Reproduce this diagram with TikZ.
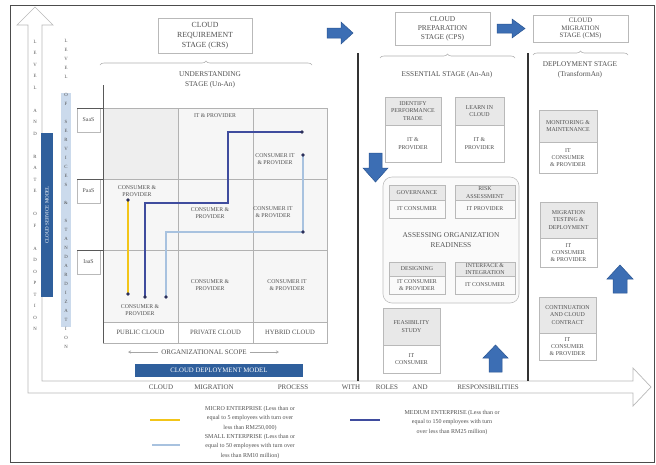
\documentclass[tikz,border=0pt]{standalone}
\usepackage{fontspec}
\setmainfont{Liberation Serif}
\usetikzlibrary{decorations.pathreplacing,arrows.meta}
\definecolor{bluearrow}{HTML}{3C6EB4}
\definecolor{bluearrowd}{HTML}{2A5592}
\definecolor{ylw}{HTML}{F2C519}
\definecolor{dblue}{HTML}{3F4C9E}
\definecolor{lblue}{HTML}{A8C2DF}
\definecolor{txt}{HTML}{505050}
\definecolor{barblue}{HTML}{2F5F9C}
\definecolor{dotc}{HTML}{2B2F5A}
\newcommand{\procbox}[8]{%
 \fill[gray!18] (#2,#3) rectangle (#4,#5);
 \draw[gray!55, line width=0.5] (#2,#3) rectangle (#4,#6);
 \draw[gray!55, line width=0.4] (#2,#5) -- (#4,#5);
 \node[boxtxt] (#1t) at ({(#2+#4)/2},{(#3+#5)/2}) {#7};
 \node[boxtxt] (#1b) at ({(#2+#4)/2},{(#5+#6)/2}) {#8};}
\begin{document}
\begin{tikzpicture}[x=1pt,y=-1pt,
  lbl/.style={font=\fontsize{5.8}{7.5}\selectfont, text=txt, align=center, inner sep=0pt},
  boxtxt/.style={font=\fontsize{5.9}{7.2}\selectfont, text=txt, align=center, inner sep=0pt},
  stagebox/.style={draw=gray!55, line width=0.6, fill=white, align=center, font=\fontsize{7.8}{10}\selectfont, text=txt, inner sep=1pt},
  headtxt/.style={font=\fontsize{7.3}{9.5}\selectfont, text=txt, align=center, inner sep=0pt},
  axtxt/.style={font=\fontsize{7}{7}\selectfont, text=txt, inner sep=0pt},
  vlet/.style={font=\fontsize{4.8}{5}\selectfont, text=txt, inner sep=0pt},
  bluearr/.style={fill=bluearrow, draw=bluearrowd, line width=0.5},
  brc/.style={decorate, decoration={brace, amplitude=4pt}, draw=gray!60, line width=0.6},
  gridln/.style={draw=gray!60, line width=0.5},
  route/.style={line width=2.2pt},
  dot/.style={circle, fill=dotc, inner sep=0pt, minimum size=3.6pt}]
\useasboundingbox (0,0) rectangle (656,464);
\fill[white] (0,0) rectangle (656,464);
% outer frame
\draw[black!70, line width=0.8] (10,5) rectangle (654,462);
% L shaped hollow axis arrow
\draw[gray!55, line width=0.7, fill=white] (28,393) -- (28,25) -- (17,25) -- (35,7) -- (53,25) -- (42,25) -- (42,381) -- (633,381) -- (633,368) -- (651,387) -- (633,406) -- (633,393) -- cycle;
% vertical letters in arrow shaft
\foreach \c [count=\i] in {L,E,V,E,L,{},A,N,D,{},R,A,T,E,{},O,F,{},A,D,O,P,T,I,O,N}
  \node[vlet] at (35,{30+\i*11.5}) {\c};
% blue vertical bar
\fill[barblue] (41,133) rectangle (53,297);
\node[font=\fontsize{5}{5}\selectfont, text=white, rotate=90] (svcbar) at (47,215) {CLOUD SERVICE MODEL};
% light blue column
\fill[lblue!60] (61,93) rectangle (71,327);
\foreach \c [count=\i] in {L,E,V,E,L,{},O,F,{},S,E,R,V,I,C,E,S,{},{\&},{},S,T,A,N,D,A,R,D,I,Z,A,T,I,O,N}
  \node[vlet] at (66,{32+\i*9}) {\c};
% stage boxes
\node[stagebox, minimum width=94pt, minimum height=35pt] (crs) at (205,35.5) {CLOUD\\REQUIREMENT\\STAGE (CRS)};
\node[stagebox, minimum width=95pt, minimum height=33pt, font=\fontsize{7.4}{9}\selectfont] (cps) at (442.5,28.5) {CLOUD\\PREPARATION\\STAGE (CPS)};
\node[stagebox, minimum width=95pt, minimum height=27pt, font=\fontsize{6.8}{7.6}\selectfont] (cms) at (580.5,28.5) {CLOUD\\MIGRATION\\STAGE (CMS)};
% braces
\draw[brc] (100,65) -- (312,65);
\draw[brc] (380,58) -- (515,58);
\draw[brc] (533,55) -- (628,55);
\node[headtxt] (un) at (210,80) {UNDERSTANDING\\STAGE (Un-An)};
\node[headtxt] (es) at (447,75) {ESSENTIAL STAGE (An-An)};
\node[headtxt] (dep) at (580,70) {DEPLOYMENT STAGE\\(TransformAn)};
% blue block arrows
\fill[bluearr] (327,28)--(341,28)--(341,22)--(353,33)--(341,44)--(341,38)--(327,38)--cycle;
\fill[bluearr] (497,24)--(512,24)--(512,19)--(525,28.5)--(512,38)--(512,33)--(497,33)--cycle;
\fill[bluearr] (369,153)--(382,153)--(382,168)--(388,168)--(375.5,182)--(363,168)--(369,168)--cycle;
\fill[bluearr] (489,372)--(502,372)--(502,358)--(508,358)--(495.5,345)--(483,358)--(489,358)--cycle;
\fill[bluearr] (613,293)--(627,293)--(627,279)--(633,279)--(620,265)--(607,279)--(613,279)--cycle;
% thick separators
\draw[black!80, line width=2.2pt] (358,53) -- (358,381);
\draw[black!80, line width=2.2pt] (528,53) -- (528,381);
% grid
\fill[gray!7] (103,108) rectangle (327,322);
\fill[gray!13] (103,108) rectangle (178,179);
\draw[gridln] (103,108) rectangle (327,343);
\foreach \yy in {179,250,322} \draw[gridln] (103,\yy) -- (327,\yy);
\foreach \xx in {178,253} \draw[gridln] (\xx,108) -- (\xx,343);
\draw[black!65, line width=0.9] (103,85) -- (103,343);
% service model boxes
\foreach \yy/\t/\nm in {108/SaaS/saas,179/PaaS/paas,250/IaaS/iaas}{
  \draw[gray!55, line width=0.5] (77,\yy) rectangle (100,\yy+24);
  \draw[black!65, line width=0.8] (77,\yy) -- (103,\yy);
  \node[lbl] (\nm) at (88.5,\yy+12) {\t};
}
% cell labels
\node[lbl] (c1) at (215,116) {IT \& PROVIDER};
\node[lbl] (c2) at (275,159) {CONSUMER IT\\\& PROVIDER};
\node[lbl] (c3) at (137,191) {CONSUMER \&\\PROVIDER};
\node[lbl] (c4) at (210,213) {CONSUMER \&\\PROVIDER};
\node[lbl] (c5) at (273,212) {CONSUMER IT\\\& PROVIDER};
\node[lbl] (c6) at (210,285) {CONSUMER \&\\PROVIDER};
\node[lbl] (c7) at (287,285) {CONSUMER IT\\\& PROVIDER};
\node[lbl] (c8) at (140,310) {CONSUMER \&\\PROVIDER};
\node[lbl, font=\fontsize{6.6}{7}\selectfont] (pub) at (140.5,332.5) {PUBLIC CLOUD};
\node[lbl, font=\fontsize{6.6}{7}\selectfont] (pri) at (215.5,332.5) {PRIVATE CLOUD};
\node[lbl, font=\fontsize{6.6}{7}\selectfont] (hyb) at (290,332.5) {HYBRID CLOUD};
% routes
\coordinate (ya) at (128,200); \coordinate (yb) at (128,294);
\draw[route, ylw] (ya) -- (yb);
\coordinate (da) at (145,297); \coordinate (db) at (302,132);
\draw[route, dblue] (da) -- (145,203) -- (228,203) -- (228,132) -- (db);
\coordinate (la) at (166,297); \coordinate (lb) at (303,232); \coordinate (lc) at (303,155);
\draw[route, lblue, line width=1.8pt] (la) -- (166,232) -- (lb) -- (lc);
\foreach \p in {ya,yb,da,db,la,lb,lc} \node[dot] at (\p) {};
% organizational scope
\node[lbl, font=\fontsize{7}{7}\selectfont] (org) at (204,352) {ORGANIZATIONAL SCOPE};
\coordinate (orgl) at (128,352); \coordinate (orgr) at (279,352);
\draw[gray!70, line width=0.5, -{Stealth[length=3pt,width=3pt]}] (org.west) ++(-3,0) -- (orgl);
\draw[gray!70, line width=0.5, -{Stealth[length=3pt,width=3pt,open]}] (org.east) ++(3,0) -- (orgr);
% deployment bar
\fill[barblue] (135,364) rectangle (303,377);
\node[font=\fontsize{6.8}{7}\selectfont, text=white] (depbar) at (219,370.5) {CLOUD DEPLOYMENT MODEL};
% axis words
\foreach \w/\xx in {CLOUD/161,MIGRATION/214,PROCESS/293,WITH/351,ROLES/387,AND/420,RESPONSIBILITIES/488}
  \node[axtxt] at (\xx,387) {\w};
% essential stage boxes
\procbox{ident}{385}{97}{441}{125}{162}{IDENTIFY\\PERFORMANCE\\TRADE}{IT \&\\PROVIDER}
\procbox{learn}{455}{97}{504}{125}{162}{LEARN IN\\CLOUD}{IT \&\\PROVIDER}
\draw[gray!50, line width=0.6, fill=gray!4, rounded corners=9pt] (383,177) rectangle (519,303);
\procbox{gov}{389}{185}{445}{200}{218}{GOVERNANCE}{IT CONSUMER}
\procbox{risk}{455}{185}{515}{200}{218}{RISK\\ASSESSMENT}{IT PROVIDER}
\node[headtxt, font=\fontsize{7.4}{9.5}\selectfont] (aor) at (451,240) {ASSESSING ORGANIZATION\\READINESS};
\procbox{des}{389}{262}{445}{276}{294}{DESIGNING}{IT CONSUMER\\\& PROVIDER}
\procbox{integ}{455}{262}{515}{276}{294}{INTERFACE \&\\INTEGRATION}{IT CONSUMER}
\procbox{feas}{383}{308}{440}{345}{373}{FEASIBILITY\\STUDY}{IT\\CONSUMER}
% migration stage boxes
\procbox{mon}{539}{110}{597}{142}{173}{MONITORING \&\\MAINTENANCE}{IT\\CONSUMER\\\& PROVIDER}
\procbox{mig}{540}{202}{597}{238}{267}{MIGRATION\\TESTING \&\\DEPLOYMENT}{IT\\CONSUMER\\\& PROVIDER}
\procbox{cont}{539}{297}{596}{333}{360}{CONTINUATION\\AND CLOUD\\CONTRACT}{IT\\CONSUMER\\\& PROVIDER}
% legend
\coordinate (l1a) at (150,420); \coordinate (l1b) at (180,420);
\draw[ylw, line width=2.2pt] (l1a) -- (l1b);
\node[lbl, font=\fontsize{6}{9.4}\selectfont] (leg1) at (250,418.5) {MICRO ENTERPRISE (Less than or\\equal to 5 employees with turn over\\less than RM250,000)};
\coordinate (l2a) at (152,445); \coordinate (l2b) at (180,445);
\draw[lblue, line width=1.5pt] (l2a) -- (l2b);
\node[lbl, font=\fontsize{6}{9.4}\selectfont] (leg2) at (250,446.5) {SMALL ENTERPRISE (Less than or\\equal to 50 employees with turn over\\less than RM10 million)};
\coordinate (l3a) at (350,420); \coordinate (l3b) at (380,420);
\draw[dblue, line width=2.2pt] (l3a) -- (l3b);
\node[lbl, font=\fontsize{6}{9.4}\selectfont] (leg3) at (452,422.5) {MEDIUM ENTERPRISE (Less than or\\equal to 150 employees with turn\\over less than RM25 million)};
\end{tikzpicture}
\end{document}
